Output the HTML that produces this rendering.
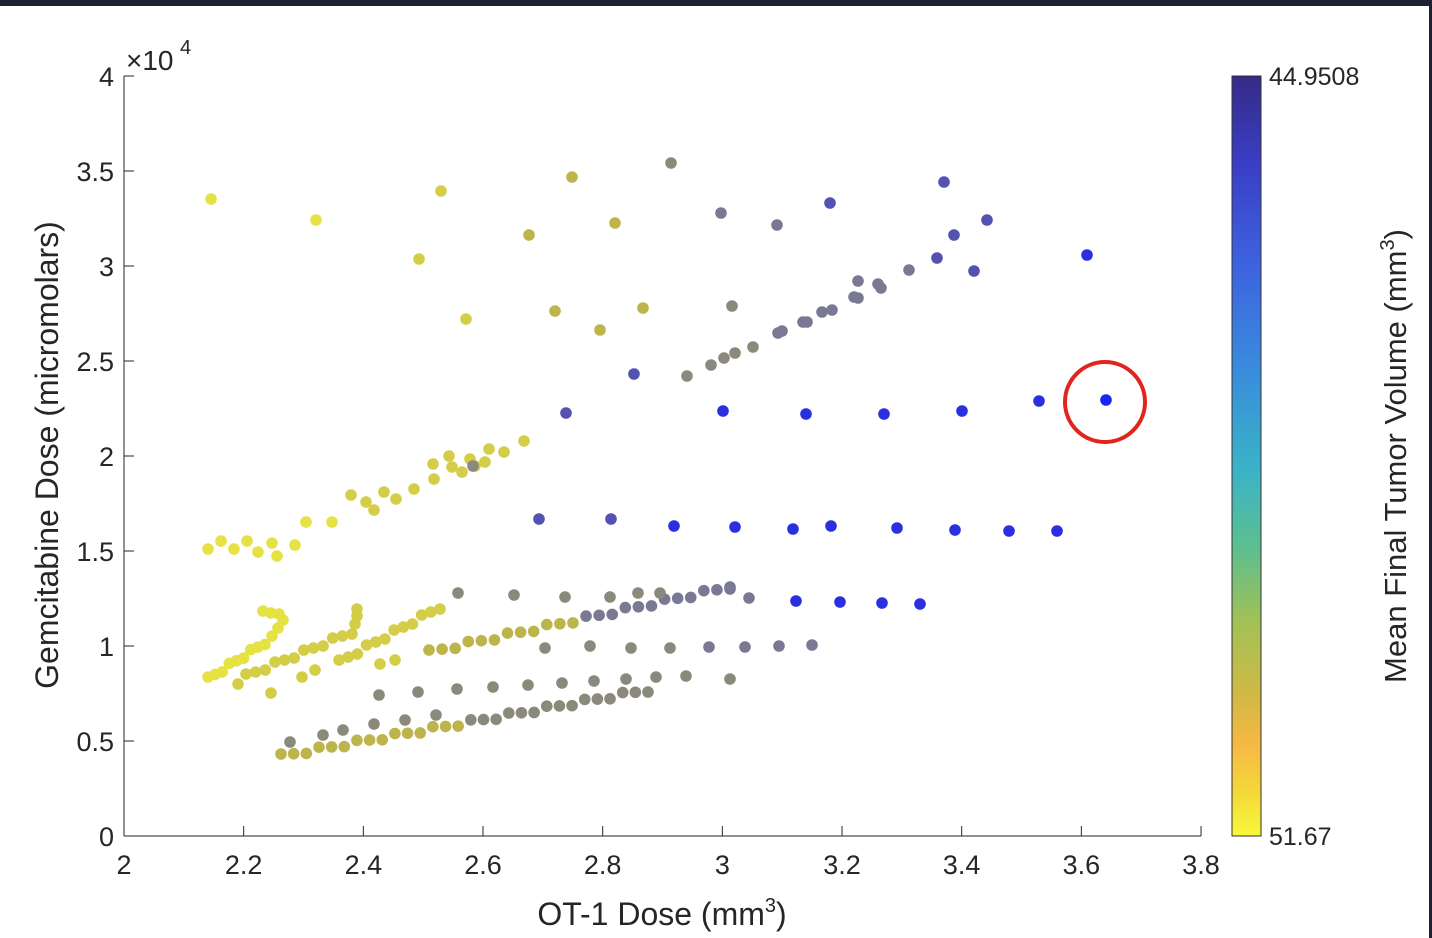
<!DOCTYPE html>
<html><head><meta charset="utf-8"><style>
html,body{margin:0;padding:0;background:#fff}
body{width:1432px;height:938px;overflow:hidden;position:relative;font-family:"Liberation Sans",Arial,sans-serif}
</style></head><body>
<svg id="s" width="1432" height="938" xmlns="http://www.w3.org/2000/svg" style="position:absolute;left:0;top:0">
<defs><linearGradient id="cb" x1="0" y1="0" x2="0" y2="1">
<stop offset="0" stop-color="#352a87"/><stop offset="0.12" stop-color="#3a3fc8"/>
<stop offset="0.25" stop-color="#3d63e0"/><stop offset="0.4" stop-color="#3990db"/>
<stop offset="0.52" stop-color="#3bb3c6"/><stop offset="0.62" stop-color="#5cbf90"/>
<stop offset="0.72" stop-color="#a3c155"/><stop offset="0.82" stop-color="#d3b845"/>
<stop offset="0.88" stop-color="#f6b944"/><stop offset="0.94" stop-color="#f4d73a"/>
<stop offset="1" stop-color="#f8f83a"/></linearGradient></defs>
<rect x="0" y="0" width="1432" height="6" fill="#1e2230"/>
<rect x="1429" y="0" width="3" height="938" fill="#1e2230"/>
<g id="dots"></g>
<g stroke="#262626" stroke-width="1" fill="none">
<line x1="124" y1="836" x2="1201" y2="836"/><line x1="124" y1="76" x2="124" y2="836"/>
</g>
<g id="ticks" stroke="#262626" stroke-width="1"></g>
<g font-size="27" fill="#262626" id="lab"></g>
<text x="126" y="70" font-size="28" fill="#262626">×10</text>
<text x="180" y="54" font-size="20" fill="#262626">4</text>
<text x="662" y="925" font-size="32" fill="#262626" text-anchor="middle">OT-1 Dose (mm<tspan dy="-13" font-size="20">3</tspan><tspan dy="13">)</tspan></text>
<text transform="translate(58,455) rotate(-90)" font-size="32" fill="#262626" text-anchor="middle">Gemcitabine Dose (micromolars)</text>
<text transform="translate(1406,456) rotate(-90)" font-size="31" fill="#262626" text-anchor="middle">Mean Final Tumor Volume (mm<tspan dy="-12" font-size="20">3</tspan><tspan dy="12">)</tspan></text>
<rect x="1232" y="76" width="29" height="760" fill="url(#cb)" stroke="#333" stroke-width="1"/>
<text x="1269" y="85" font-size="25" fill="#262626">44.9508</text>
<text x="1269" y="845" font-size="25" fill="#262626">51.67</text>
<circle cx="1105" cy="402" r="40" fill="none" stroke="#e0261c" stroke-width="4"/>
</svg>
<script>
var NS="http://www.w3.org/2000/svg";
var g=document.getElementById('dots');
function d(x,y,c){var e=document.createElementNS(NS,'circle');e.setAttribute('cx',x);e.setAttribute('cy',y);e.setAttribute('r',5.8);e.setAttribute('fill',c);g.appendChild(e);}
function L(a,c){for(var i=0;i<a.length;i+=2)d(a[i],a[i+1],c);}
function band(x1,y1,x2,y2,n,c1,c2){for(var i=0;i<n;i++){var t=i/(n-1);d(x1+(x2-x1)*t,y1+(y2-y1)*t+((i%3)-1)*2,t<0.5?c1:c2);}}
var Y1="#e6e244",Y2="#d4cd48",O="#bdb54c",G="#8a897c",S="#7a7994",P="#5352b0",B="#2a30e0",BB="#1826f0";
L([211,199,316,220,208,549,221,541,234,549,247,541,258,552,272,543,277,556,295,545,306,522,332,522],Y1);
L([419,259,466,319,441,191,351,495,366,502,374,510,384,492,396,499,414,489,434,479,433,464,449,456,452,467,462,472,470,459,475,466,485,462,489,449,504,452,524,441],Y2);
L([529,235,555,311,572,177,600,330,615,223,643,308],O);
L([671,163,687,376,711,365,724,358,735,353,753,347,732,306,473,466],G);
L([721,213,777,225,778,333,782,331,803,322,807,322,822,312,832,310,854,297,858,298,858,281,878,284,881,288,909,270],S);
L([830,203,944,182,954,235,987,220,937,258,974,271,634,374,566,413],P);
L([723,411,806,414,884,414,962,411,1039,401,1087,255],B);d(1106,400,BB);
L([539,519,611,519],P);L([674,526,735,527,793,529,831,526,897,528,955,530,1009,531,1057,531],B);
L([730,587,749,598],S);L([796,601,840,602,882,603,920,604],B);
band(429,652,730,587,24,O,S);
L([458,593,514,595,565,597,610,597,638,593,660,593],G);
L([545,648,590,646,631,648,670,648],G);L([709,647,745,647,779,646,812,645],S);
band(281,756,648,690,30,O,G);
L([290,742,323,735,343,730,374,724,405,720,436,715,379,695,418,692,457,689,493,687,528,685,562,683,594,681,626,679,656,677,686,676,730,679],G);
band(208,679,272,638,10,Y1,Y1);L([278,628,283,620,279,614,271,613,263,611],Y1);
band(246,676,352,632,12,Y2,Y2);L([355,624,357,616,357,609],Y2);
band(339,662,440,607,12,Y2,Y2);
L([238,684,271,693,302,677,315,670,380,664,395,660],Y2);
var t=document.getElementById('ticks'),lab=document.getElementById('lab');
function ln(a,b,c,e){var l=document.createElementNS(NS,'line');l.setAttribute('x1',a);l.setAttribute('y1',b);l.setAttribute('x2',c);l.setAttribute('y2',e);t.appendChild(l);}
function tx(x,y,s,an){var e=document.createElementNS(NS,'text');e.setAttribute('x',x);e.setAttribute('y',y);e.setAttribute('text-anchor',an);e.textContent=s;lab.appendChild(e);}
var xs=['2','2.2','2.4','2.6','2.8','3','3.2','3.4','3.6','3.8'];
for(var i=0;i<10;i++){var x=124+i*119.67;ln(x,836,x,826);tx(x,874,xs[i],'middle');}
var ys=['0','0.5','1','1.5','2','2.5','3','3.5','4'];
for(var i=0;i<9;i++){var y=836-i*95;ln(124,y,134,y);tx(114,y+10,ys[i],'end');}
</script>
</body></html>
